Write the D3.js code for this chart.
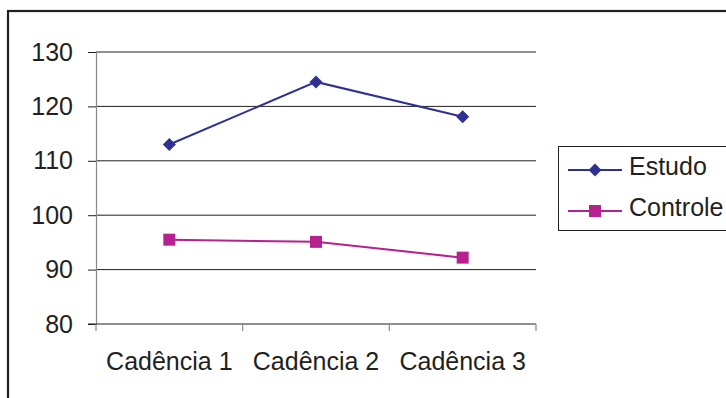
<!DOCTYPE html>
<html>
<head>
<meta charset="utf-8">
<script src="https://cdn.jsdelivr.net/npm/d3@7"></script>
<style>
  html, body { margin: 0; padding: 0; background: #fff; }
  svg { display: block; }
  text { font-family: "Liberation Sans", Arial, sans-serif; fill: #231f20; }
</style>
</head>
<body>
<svg id="chart" width="726" height="398"></svg>
<script>
const categories = ["Cadência 1", "Cadência 2", "Cadência 3"];
const estudo = [113.0, 124.5, 118.1];
const controle = [95.5, 95.1, 92.2];
const yTicks = [80, 90, 100, 110, 120, 130];
const seriesNames = ["Estudo", "Controle"];
const seriesColors = ["#2e3192", "#b5218e"];

const FONT = "25px";
const svg = d3.select("#chart");

// outer frame
svg.append("rect")
  .attr("x", 8).attr("y", 11).attr("width", 740).attr("height", 400)
  .attr("fill", "none").attr("stroke", "#231f20").attr("stroke-width", 2.2);

const plot = { left: 96, right: 536, top: 52, bottom: 324 };

const x = d3.scaleBand().domain(categories).range([plot.left, plot.right]);
const y = d3.scaleLinear().domain([80, 130]).range([plot.bottom, plot.top]);

// horizontal gridlines
svg.append("g").selectAll("line").data(yTicks.filter(t => t > 80)).join("line")
  .attr("x1", plot.left).attr("x2", plot.right)
  .attr("y1", d => y(d)).attr("y2", d => y(d))
  .attr("stroke", "#231f20").attr("stroke-width", 1);

// y axis
const yAxis = svg.append("g").attr("transform", `translate(${plot.left},0)`)
  .call(d3.axisLeft(y).tickValues(yTicks).tickSize(8).tickPadding(15).tickFormat(d3.format("d")));
yAxis.attr("font-size", null).attr("font-family", null);
yAxis.select(".domain").attr("stroke", "#8a8a8a").attr("stroke-width", 1.2);
yAxis.selectAll(".tick line").attr("stroke", "#231f20");
yAxis.selectAll(".tick text").style("font-size", FONT).attr("fill", "#231f20");

// x axis
const xAxis = svg.append("g").attr("transform", `translate(0,${plot.bottom})`)
  .call(d3.axisBottom(x).tickSize(0).tickPadding(28));
xAxis.attr("font-size", null).attr("font-family", null);
xAxis.select(".domain").remove();
xAxis.selectAll(".tick text").style("font-size", FONT).attr("fill", "#231f20");
svg.append("line")
  .attr("x1", plot.left - 8).attr("x2", plot.right)
  .attr("y1", plot.bottom).attr("y2", plot.bottom)
  .attr("stroke", "#231f20").attr("stroke-width", 1.2);
// category separator ticks
const bounds = categories.map(c => x(c)).concat([plot.right]);
svg.append("g").selectAll("line").data(bounds).join("line")
  .attr("x1", d => d).attr("x2", d => d)
  .attr("y1", plot.bottom).attr("y2", plot.bottom + 7)
  .attr("stroke", "#8a8a8a").attr("stroke-width", 1.2);

const cx = c => x(c) + x.bandwidth() / 2;
const line = d3.line().x((d, i) => cx(categories[i])).y(d => y(d));

function drawDiamond(g, px, py, color) {
  g.append("path").attr("d", d3.symbol().type(d3.symbolSquare).size(85)())
    .attr("transform", `translate(${px},${py}) rotate(45)`)
    .attr("fill", color);
}
function drawSquare(g, px, py, color) {
  g.append("rect").attr("x", px - 6).attr("y", py - 6)
    .attr("width", 12).attr("height", 12).attr("fill", color);
}

// Estudo
svg.append("path").datum(estudo).attr("d", line)
  .attr("fill", "none").attr("stroke", seriesColors[0]).attr("stroke-width", 2);
const gE = svg.append("g");
estudo.forEach((v, i) => drawDiamond(gE, cx(categories[i]), y(v), seriesColors[0]));

// Controle
svg.append("path").datum(controle).attr("d", line)
  .attr("fill", "none").attr("stroke", seriesColors[1]).attr("stroke-width", 2);
const gC = svg.append("g");
controle.forEach((v, i) => drawSquare(gC, cx(categories[i]), y(v), seriesColors[1]));

// legend
const leg = svg.append("g");
leg.append("rect").attr("x", 558.5).attr("y", 146.5).attr("width", 200).attr("height", 84)
  .attr("fill", "#fff").attr("stroke", "#231f20").attr("stroke-width", 1);
const legY = [170, 211];
const legBase = [175, 216];
seriesNames.forEach((name, i) => {
  leg.append("line").attr("x1", 568).attr("x2", 622).attr("y1", legY[i]).attr("y2", legY[i])
    .attr("stroke", seriesColors[i]).attr("stroke-width", 2);
  if (i === 0) drawDiamond(leg, 595, legY[i], seriesColors[i]);
  else drawSquare(leg, 595, legY[i], seriesColors[i]);
  leg.append("text").attr("x", 629).attr("y", legBase[i])
    .style("font-size", FONT).text(name);
});
</script>
</body>
</html>
